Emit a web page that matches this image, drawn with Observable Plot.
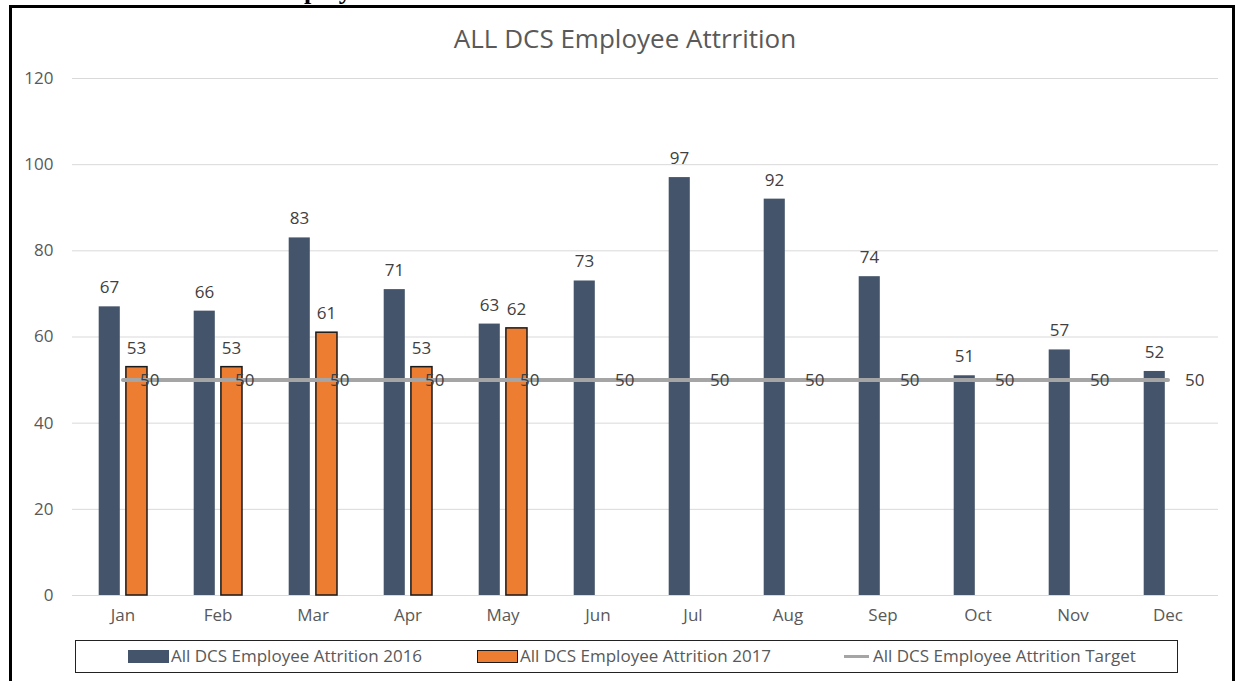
<!DOCTYPE html>
<html>
<head>
<meta charset="utf-8">
<script src="https://cdn.jsdelivr.net/npm/d3@7"></script>
<script src="https://cdn.jsdelivr.net/npm/@observablehq/plot@0.6"></script>
<style>
  html, body { margin: 0; padding: 0; background: #fff; }
  #page { position: relative; width: 1243px; height: 681px; overflow: hidden; background: #fff; font-family: "Open Sans", Lato, sans-serif; }
  #frame { position: absolute; left: 9px; top: 5px; width: 1226px; height: 700px; border: 3px solid #000; box-sizing: border-box; pointer-events: none; }
  #cut { position: absolute; left: 265px; top: -22px; font-family: "Liberation Serif", serif; font-weight: bold; font-size: 26px; line-height: 26px; color: #000; white-space: nowrap; }
  #title { position: absolute; left: 0; width: 1250px; top: 20px; text-align: center; font-size: 26px; color: #595959; }
  #chart { position: absolute; left: 0; top: 0; }
  #legend { position: absolute; left: 75px; top: 640px; width: 1103px; height: 33px; border: 1.5px solid #222; box-sizing: border-box; }
  .sw { position: absolute; }
  .lt { position: absolute; top: 3px; font-size: 17px; color: #595959; white-space: nowrap; }
</style>
</head>
<body>
<div id="page">
  <div id="cut">Employee</div>
  <div id="title">ALL DCS Employee Attrrition</div>
  <div id="chart"></div>
  <div id="legend"></div>
  <div id="frame"></div>
</div>
<script>
const months = ["Jan","Feb","Mar","Apr","May","Jun","Jul","Aug","Sep","Oct","Nov","Dec"];
const attrition2016 = [67,66,83,71,63,73,97,92,74,51,57,52];
const attrition2017 = [53,53,61,53,62];
const target = [50,50,50,50,50,50,50,50,50,50,50,50];
const yTicks = [0,20,40,60,80,100,120];
const seriesNames = ["All DCS Employee Attrition 2016","All DCS Employee Attrition 2017","All DCS Employee Attrition Target"];
const colors = ["#44546a","#ed7d31","#a5a5a5"];

const d16 = attrition2016.map((v,i)=>({month:months[i], value:v}));
const d17 = attrition2017.map((v,i)=>({month:months[i], value:v}));
const dT = target.map((v,i)=>({month:months[i], value:v}));

const chart = Plot.plot({
  width: 1243,
  height: 640,
  marginLeft: 72,
  marginRight: 25,
  marginTop: 78,
  marginBottom: 45,
  style: {fontFamily: "'Open Sans', Lato, sans-serif", fontSize: "17px", color: "#595959", background: "transparent"},
  x: {domain: months, padding: 0, label: null},
  y: {domain: [0,120], label: null},
  marks: [
    Plot.ruleY(yTicks, {stroke: "#d9d9d9", strokeWidth: 1}),
    Plot.axisY({ticks: yTicks, tickSize: 0, tickPadding: 19, fill: "#595959", fontSize: 17}),
    Plot.axisX({tickSize: 0, tickPadding: 13, fill: "#595959", fontSize: 17}),
    Plot.barY(d16, {x: "month", y: "value", fill: colors[0], insetLeft: 23.7, insetRight: 50.2}),
    Plot.barY(d17, {x: "month", y: "value", fill: colors[1], stroke: "#1a1a1a", strokeWidth: 1.5, insetLeft: 50.9, insetRight: 23.0}),
    Plot.lineY(dT, {x: "month", y: "value", stroke: colors[2], strokeWidth: 4}),
    Plot.text(d16, {x: "month", y: "value", text: d => String(d.value), dx: -13.5, dy: -19, fill: "#404040", fontSize: 17}),
    Plot.text(d17, {x: "month", y: "value", text: d => String(d.value), dx: 13.5, dy: -19, fill: "#404040", fontSize: 17}),
    Plot.text(dT, {x: "month", y: "value", text: d => String(d.value), dx: 17, textAnchor: "start", fill: "#404040", fontSize: 17})
  ]
});
document.getElementById("chart").appendChild(chart);

const legend = document.getElementById("legend");
const items = [
  {sw: {left: 52, top: 9, width: 41, height: 13, background: colors[0]}, text: 95},
  {sw: {left: 401, top: 9, width: 41, height: 13, background: colors[1], border: "1.5px solid #1a1a1a", boxSizing: "border-box"}, text: 444},
  {sw: {left: 768, top: 14, width: 25, height: 3, background: colors[2]}, text: 797}
];
items.forEach((it, i) => {
  const s = document.createElement("div");
  s.className = "sw";
  Object.entries(it.sw).forEach(([k,v]) => s.style[k] = typeof v === "number" ? v + "px" : v);
  legend.appendChild(s);
  const t = document.createElement("div");
  t.className = "lt";
  t.style.left = it.text + "px";
  t.textContent = seriesNames[i];
  legend.appendChild(t);
});
</script>
</body>
</html>
